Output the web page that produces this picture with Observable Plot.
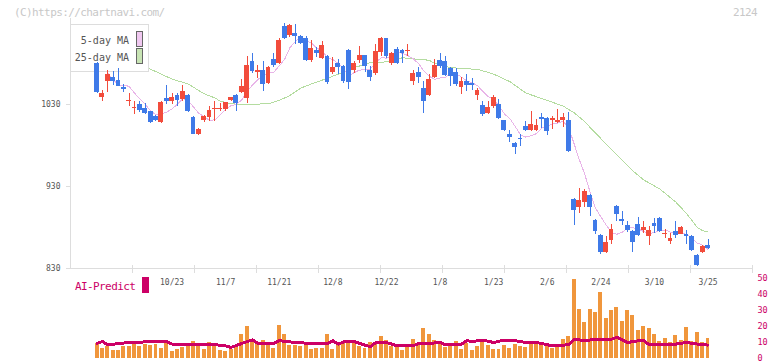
<!DOCTYPE html>
<html><head><meta charset="utf-8">
<script src="https://cdn.jsdelivr.net/npm/d3@7"></script>
<script src="https://cdn.jsdelivr.net/npm/@observablehq/plot@0.6"></script>
<style>
body{margin:0;background:#fff;}
#wrap{position:relative;width:772px;height:361px;overflow:hidden;font-family:"DejaVu Sans Mono",monospace;}
#wrap svg{position:absolute;left:0;background:transparent;}
.t{position:absolute;white-space:pre;font-size:11px;line-height:11px;letter-spacing:-0.6px;}
</style></head><body>
<div id="wrap">
  <div class="t" style="left:14px;top:7px;color:#c8c8c8">(C)https://chartnavi.com/</div>
  <div class="t" style="left:733px;top:7px;color:#c8c8c8">2124</div>
  <div class="t" style="left:75px;top:281px;color:#cc0066">AI-Predict</div>
  <div style="position:absolute;left:142px;top:277px;width:7px;height:16px;background:#cc0066"></div>
</div>
<script>
// ---- data ----
const tickLabels = ["10/23","11/7","11/21","12/8","12/22","1/8","1/23","2/6","2/24","3/10","3/25"];
const tickIdx    = [14,24,34,44,54,64,74,84,94,104,114];

const open  = [1080,1039,1058,1063,1059,1051,1034,1025,1030,1025, 1021,1015,1008,1037,1034,1041,1036,1041,1014,993,
               1010,1014,1024,1024,1024,1035,1041,1045,1037,1082, 1069,1072,1056,1085,1080,1125,1114,1117,1113,1111,
               1084,1096,1086,1089,1069,1080,1076,1096,1071,1084, 1090,1071,1068,1093,1110,1080,1097,1096,1095,1058,
               1069,1049,1041,1063,1084,1083,1074,1069,1051,1058, 1056,1041,1029,1019,1027,1030,1010,994,983,989,
               1003,998,998,1014,1013,1010,1008,1010,1011,914, 904,911,919,888,870,849,864,906,890,883,
               875,884,876,869,885,891,871,863,875,872, 872,869,846,849,858];
const high  = [1081,1047,1072,1070,1074,1055,1043,1034,1034,1031, 1022,1016,1034,1053,1043,1044,1053,1042,1015,1001,
               1017,1027,1034,1031,1033,1039,1042,1060,1089,1092, 1077,1082,1076,1092,1111,1129,1127,1127,1114,1113,
               1108,1100,1107,1090,1087,1085,1078,1097,1082,1101, 1090,1076,1103,1112,1111,1094,1100,1097,1103,1071,
               1075,1058,1067,1085,1092,1088,1075,1074,1063,1067, 1062,1050,1034,1034,1041,1036,1011,998,984,994,
               1009,1021,1012,1019,1014,1015,1024,1019,1020,915, 927,926,920,890,871,869,884,907,900,887,
               876,892,887,881,891,892,877,873,887,881, 876,870,847,858,865];
const low   = [1044,1034,1045,1053,1052,1045,1028,1018,1020,1018, 1007,1009,1007,1030,1030,1028,1034,1020,993,992,
               1008,1009,1009,1022,1022,1034,1022,1044,1031,1068, 1062,1046,1055,1075,1079,1109,1112,1103,1103,1082,
               1081,1087,1085,1055,1066,1067,1056,1048,1068,1080, 1069,1058,1065,1088,1086,1078,1079,1080,1088,1053,
               1056,1019,1040,1062,1074,1064,1052,1052,1042,1046, 1047,1035,1015,1018,1025,1012,997,984,969,979,
               997,997,997,1001,992,1000,1007,1002,972,882, 897,904,894,872,847,848,859,887,882,874,
               849,869,873,858,873,874,867,859,867,871, 859,851,832,848,853];
const close = [1045,1044,1067,1058,1052,1048,1035,1026,1023,1019, 1008,1010,1033,1034,1039,1035,1046,1021,994,1000,
               1015,1023,1025,1025,1032,1038,1031,1052,1077,1070, 1072,1054,1075,1077,1108,1111,1126,1113,1105,1084,
               1098,1092,1102,1057,1075,1075,1058,1057,1080,1090, 1076,1063,1095,1111,1088,1092,1080,1092,1096,1068,
               1063,1034,1061,1078,1076,1065,1064,1054,1058,1053, 1053,1047,1018,1026,1038,1013,998,990,978,987,
               998,1006,1004,1012,997,1013,1011,1014,973,901, 913,924,905,875,849,862,877,896,887,876,
               862,870,880,876,881,875,873,867,870,880, 869,852,834,857,855];

const ma5 = [null,null,1068,1061,1053.2,1053.8,1052,1043.8,1036.8,1030.2,
  1022.2,1017.2,1018.6,1020.8,1024.8,1030.2,1037.4,1035,1027,1019.2,
  1015.2,1010.6,1011.4,1017.6,1024,1028.6,1030.2,1035.6,1046,1053.6,
  1060.4,1065,1069.6,1069.6,1077.2,1085,1099.4,1107,1112.6,1107.8,
  1105.2,1098.4,1096.2,1086.6,1084.8,1080.2,1073.4,1064.4,1069,1072,
  1072.2,1073.2,1080.8,1087,1086.6,1089.8,1093.2,1092.6,1089.6,1085.6,
  1079.8,1070.6,1064.4,1060.8,1062.4,1062.8,1068.8,1067.4,1063.4,1058.8,
  1056.4,1053,1045.8,1039.4,1036.4,1028.4,1018.6,1013,1003.4,993.2,
  990.2,991.8,994.6,1001.4,1003.4,1006.4,1007.4,1009.4,1001.6,982.4,
  962.4,945,923.2,903.6,893.2,883,873.6,871.8,874.2,879.6,
  879.6,878.2,875,872.8,873.8,876.4,877,874.4,873.2,873,
  871.8,867.6,861,858.4,853.4];

const ma25Idx = [5,10,14,17,20,22,23,25,27,30,32,34,36,38,40,43,45,48,51,54,57,60,62,63,66,69,71,74,77,80,84,87,89,91,92,96,100,102,105,108,110,112,113,114];
const ma25Val = [1092,1073,1061,1055,1043,1038,1034,1031,1030,1030.5,1031,1035,1041,1050,1055,1062,1067,1075,1081,1082,1087,1085,1084,1080,1075,1073.5,1073,1067,1058,1044,1035,1028,1020,1009,1002,975,949,938,927,911,897,880,876,875];

const volume = [9.4,6.5,7.3,4.9,4.9,7.3,7.3,9.4,7.3,9.0,
  7.9,8.6,6.5,9.4,4.5,5.5,7.0,7.9,10.4,7.9,
  5.5,10.0,7.3,4.9,4.3,5.5,7.9,14.8,19.8,12.1,
  9.0,11.1,9.0,6.5,20.5,14.8,7.9,7.9,7.3,9.0,
  5.5,6.3,6.3,14.8,5.5,9.0,10.0,11.1,10.0,7.3,
  6.5,10.0,10.0,13.6,11.1,7.3,7.3,4.9,7.3,12.1,
  7.9,18.8,14.8,11.1,9.4,7.0,7.3,10.4,5.5,9.4,
  4.9,7.3,10.4,7.9,5.5,5.9,7.9,6.5,9.0,7.3,
  7.0,9.0,9.0,7.9,7.3,6.5,7.3,12.1,13.6,49.4,
  30.6,22.6,30.6,28.9,41.4,25.1,30.0,32.0,23.0,30.0,
  26.8,17.4,19.9,18.8,14.8,10.4,12.5,10.0,14.2,11.1,
  19.4,10.7,16.3,10.0,12.5];

const aiIdx = [0,1,2,6,11,13,14,21,24,25,27,29,30,33,34,37,40,43,44,45,46,48,49,51,52,54,55,56,59,60,62,64,65,68,69,70,72,74,76,78,80,82,85,88,89,91,93,96,97,99,101,102,103,105,108,110,112,114];
const aiVal = [9.5,10.6,8.6,10,10.6,10.6,9,9,7.9,6.9,9.4,11.7,9.4,9.4,11.1,10,9.4,9.4,11.1,9,10.4,10.6,9.4,7.3,10,10,9,7.9,7.9,9.4,9.4,10,8.6,9,11.1,10.6,11.5,10,11.5,11.1,10,10,7.9,8.6,12.1,11.1,12.1,12.1,13.2,10,11.1,11.1,8.6,9,9,10,9,8.4];

// ---- styles ----
const RED = "#f24c3c", BLUE = "#3f7ae8", VOL = "#f0963c", AI = "#cc0066";
const PINK = "#e8b4e8", GREEN = "#b4dca0";

const N = close.length;
const idx = d3.range(N);
const xLo = -4.95, xHi = 122.3;
const gridTicks = d3.range(1, 12).map(k => xLo + k * (xHi - xLo) / 11);
const labelOf = new Map(tickIdx.map((d, i) => [d, tickLabels[i]]));
const col = i => close[i] >= open[i] ? RED : BLUE;
const ma25 = ma25Idx.map((d, i) => ({i: d, v: ma25Val[i]}));
const ai = aiIdx.map((d, i) => ({i: d, v: aiVal[i]}));

function legend() {
  const g = d3.create("svg:g").attr("font-family", "DejaVu Sans Mono").attr("font-size", 10);
  g.append("rect").attr("x", 70.5).attr("y", 24.5).attr("width", 78).attr("height", 47)
    .attr("fill", "white").attr("stroke", "#ddd");
  [["5-day MA", "#f0c8f0", 44, 31.5], ["25-day MA", "#c8e4b4", 61, 48.5]].forEach(([t, c, by, ry]) => {
    g.append("text").attr("x", 129).attr("y", by).attr("text-anchor", "end").attr("fill", "#555").text(t);
    g.append("rect").attr("x", 136.5).attr("y", ry).attr("width", 6).attr("height", 15)
      .attr("fill", c).attr("stroke", "#666");
  });
  return g.node();
}

const common = {fontFamily: "DejaVu Sans Mono", fontSize: "8px", background: "transparent", overflow: "visible", shapeRendering: "crispEdges"};

const main = Plot.plot({
  width: 772, height: 290,
  marginLeft: 70, marginRight: 20, marginTop: 18, marginBottom: 22,
  style: common,
  x: {domain: [xLo, xHi], axis: null},
  y: {domain: [830, 1134.88], axis: null},
  marks: [
    Plot.axisX({ticks: gridTicks, tickSize: 8, dy: -3, tickFormat: () => null, stroke: "#ddd", label: null}),
    Plot.axisX({ticks: tickIdx, tickSize: 0, tickPadding: 11, tickFormat: d => labelOf.get(d), fill: "#555", label: null}),
    Plot.axisY({ticks: [830, 930, 1030], tickSize: 4, tickPadding: 6, stroke: "#ddd", fill: "#555", tickFormat: d => String(d), label: null}),
    Plot.frame({anchor: "left", stroke: "#ddd"}),
    Plot.frame({anchor: "bottom", stroke: "#ddd"}),
    Plot.line(ma25, {x: "i", y: "v", stroke: GREEN, strokeWidth: 1}),
    Plot.line(idx.filter(i => ma5[i] != null), {x: i => i, y: i => ma5[i], stroke: PINK, strokeWidth: 1}),
    legend,
    Plot.ruleX(idx, {x: i => i, y1: i => low[i], y2: i => high[i], stroke: col, strokeWidth: 1}),
    Plot.rect(idx, {
      x1: i => i - 0.45, x2: i => i + 0.45,
      y1: i => Math.min(open[i], close[i]),
      y2: i => Math.max(open[i], close[i], Math.min(open[i], close[i]) + 1.3),
      fill: col
    })
  ]
});
main.style.top = "0px";

const sub = Plot.plot({
  width: 772, height: 101,
  marginLeft: 70, marginRight: 20, marginTop: 18, marginBottom: 3,
  style: common,
  x: {domain: [xLo, xHi], axis: null},
  y: {domain: [0, 50], axis: null},
  marks: [
    Plot.axisY({anchor: "right", ticks: [0, 10, 20, 30, 40, 50], tickSize: 0, tickPadding: 5, fill: AI, fontSize: 8.5, label: null, dy: -0.5}),
    Plot.rect(idx, {x1: i => i - 0.37, x2: i => i + 0.37, y1: 0, y2: i => volume[i], fill: VOL}),
    Plot.line(ai, {x: "i", y: "v", stroke: AI, strokeWidth: 3})
  ]
});
sub.style.top = "260px";

const wrap = document.getElementById("wrap");
wrap.prepend(sub);
wrap.prepend(main);
</script>
</body></html>
